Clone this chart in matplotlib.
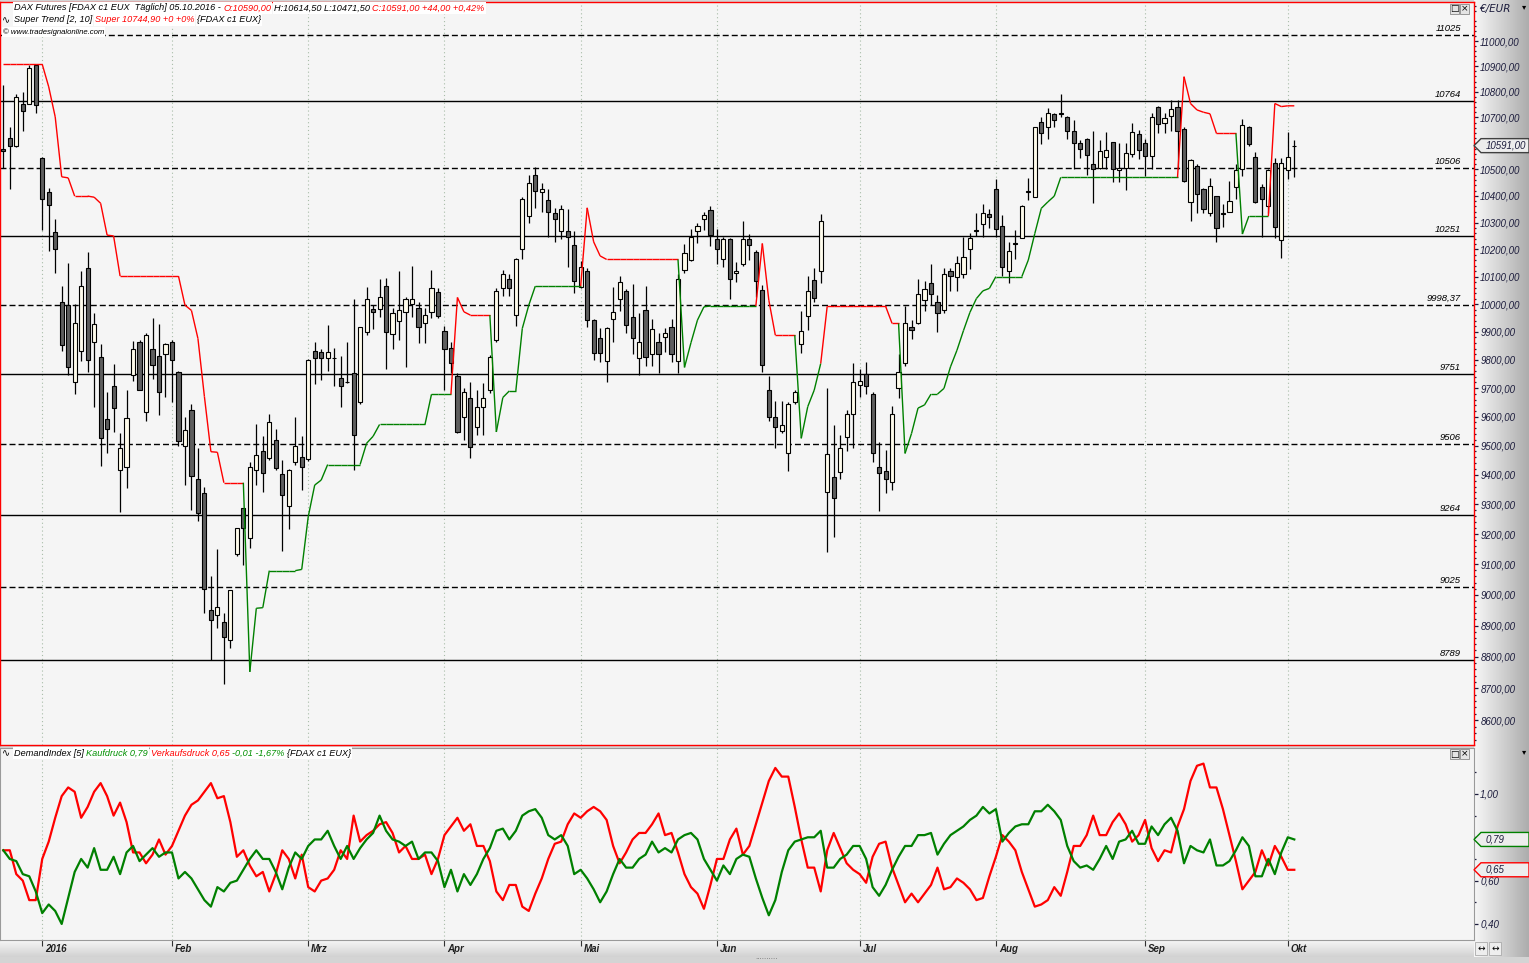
import numpy as np
import matplotlib
matplotlib.use("Agg")
import matplotlib.pyplot as plt
from matplotlib.collections import LineCollection
from matplotlib.patches import Rectangle, Polygon
from matplotlib.lines import Line2D
from matplotlib.colors import LinearSegmentedColormap
from matplotlib.transforms import IdentityTransform, blended_transform_factory
from matplotlib.ticker import FixedLocator, NullFormatter, FuncFormatter

W, H = 1529, 963
FONT = ["Liberation Sans", "DejaVu Sans"]

# ---------------- data ----------------
opens = [10578, 10619, 10591, 10752, 10754, 10905, 10542, 10413, 10263, 10009,
         9995, 9720, 9833, 10130, 9862, 9810, 9591, 9706, 9415, 9425,
         9746, 9862, 9615, 9840, 9813, 9819, 9865, 9757, 9498, 9625,
         9384, 9337, 8950, 8933, 8911, 8855, 9133, 9286, 9186, 9416,
         9480, 9459, 9518, 9401, 9293, 9442, 9460, 9454, 9833, 9829,
         9805, 9808, 9737, 9723, 9752, 9652, 9901, 9982, 9983, 10064,
         9891, 9937, 9972, 10002, 9984, 9930, 9972, 10042, 9902, 9842,
         9743, 9600, 9664, 9565, 9635, 9693, 9869, 10060, 10091, 9959,
         10201, 10326, 10480, 10413, 10383, 10337, 10268, 10268, 10216, 10062,
         10119, 9941, 9876, 9797, 9945, 10020, 10046, 9952, 9805, 9980,
         9819, 9864, 9882, 9916, 9797, 10126, 10161, 10267, 10312, 10345,
         10238, 10164, 10238, 10112, 10145, 10238, 10190, 10051, 9695, 9600,
         9551, 9475, 9650, 9855, 9957, 10087, 10119, 9340, 9391, 9408,
         9528, 9608, 9711, 9748, 9681, 9427, 9414, 9374, 9702, 9787,
         9918, 9930, 10014, 10075, 10008, 9980, 10120, 10097, 10108, 10201,
         10269, 10295, 10330, 10425, 10288, 10121, 10223, 10241, 10414, 10394,
         10683, 10664, 10713, 10717, 10700, 10648, 10603, 10618, 10520, 10507,
         10546, 10606, 10497, 10507, 10559, 10634, 10603, 10551, 10739, 10680,
         10706, 10739, 10654, 10377, 10515, 10425, 10334, 10398, 10334, 10340,
         10432, 10500, 10664, 10546, 10434, 10360, 10523, 10235, 10497, 10590]

highs = [10827, 10661, 10790, 10798, 10905, 10909, 10546, 10430, 10312, 10065,
         10149, 10002, 10120, 10191, 9966, 9858, 9686, 9785, 9543, 9693,
         9866, 9872, 9894, 9949, 9928, 9860, 9870, 9760, 9600, 9644,
         9490, 9357, 9061, 9150, 8940, 9015, 9220, 9286, 9442, 9574,
         9533, 9609, 9557, 9450, 9420, 9600, 9534, 9804, 9863, 9839,
         9923, 9841, 9813, 9865, 10020, 9919, 10062, 9998, 10093, 10095,
         9984, 10120, 10026, 10139, 10008, 9985, 10124, 10059, 9921, 9862,
         9752, 9699, 9722, 9693, 9719, 9817, 10057, 10124, 10108, 10170,
         10397, 10480, 10511, 10447, 10424, 10355, 10365, 10349, 10268, 10157,
         10130, 9945, 9914, 9916, 10062, 10102, 10055, 10073, 9966, 10065,
         9945, 9894, 9912, 9945, 10108, 10220, 10275, 10297, 10338, 10361,
         10275, 10247, 10242, 10155, 10305, 10257, 10198, 10069, 9743, 9654,
         9654, 9652, 9693, 9975, 10102, 10130, 10331, 9699, 9571, 9536,
         9623, 9787, 9769, 9791, 9685, 9511, 9486, 9637, 9822, 9993,
         9942, 10090, 10084, 10146, 10033, 10130, 10130, 10177, 10247, 10262,
         10334, 10371, 10352, 10462, 10328, 10226, 10272, 10365, 10469, 10664,
         10702, 10735, 10718, 10793, 10706, 10690, 10612, 10622, 10647, 10612,
         10642, 10606, 10602, 10603, 10680, 10651, 10618, 10716, 10745, 10718,
         10767, 10767, 10664, 10539, 10520, 10431, 10468, 10399, 10371, 10455,
         10522, 10693, 10667, 10568, 10443, 10503, 10542, 10542, 10645, 10614.5]

lows = [10505, 10425, 10587, 10648, 10752, 10716, 10272, 10195, 10114, 9832,
        9746, 9681, 9797, 9757, 9635, 9430, 9475, 9548, 9275, 9356,
        9726, 9693, 9586, 9732, 9607, 9670, 9651, 9499, 9365, 9281,
        9245, 8940, 8789, 8891, 8715, 8828, 9127, 9098, 9153, 9365,
        9340, 9450, 9415, 9145, 9218, 9433, 9348, 9448, 9714, 9729,
        9761, 9708, 9635, 9718, 9416, 9646, 9889, 9910, 9954, 9769,
        9840, 9870, 9775, 9954, 9860, 9860, 9948, 9948, 9695, 9752,
        9543, 9519, 9458, 9536, 9536, 9684, 9864, 10030, 10030, 9920,
        10165, 10297, 10355, 10340, 10245, 10229, 10238, 10136, 10039, 10057,
        9916, 9801, 9791, 9720, 9864, 9975, 9894, 9822, 9746, 9779,
        9779, 9752, 9826, 9791, 9752, 10114, 10158, 10225, 10272, 10213,
        10145, 10136, 10020, 10079, 10140, 10161, 10026, 9757, 9585, 9490,
        9543, 9414, 9644, 9824, 9906, 10008, 10077, 9141, 9191, 9385,
        9482, 9490, 9670, 9678, 9442, 9279, 9339, 9348, 9667, 9779,
        9874, 9928, 9975, 9996, 9900, 9968, 10048, 10048, 10095, 10127,
        10250, 10247, 10278, 10247, 10102, 10077, 10165, 10241, 10384, 10394,
        10599, 10618, 10664, 10702, 10618, 10503, 10542, 10478, 10374, 10500,
        10500, 10453, 10453, 10422, 10546, 10539, 10474, 10500, 10638, 10641,
        10647, 10501, 10453, 10306, 10336, 10336, 10324, 10229, 10284, 10340,
        10390, 10474, 10589, 10372, 10247, 10334, 10241, 10167, 10465, 10471.5]

closes = [10572, 10591, 10781, 10724, 10893, 10750, 10390, 10364, 10201, 9853,
          9773, 9930, 10064, 9801, 9927, 9525, 9556, 9631, 9491, 9597,
          9840, 9694, 9888, 9780, 9688, 9858, 9801, 9515, 9553, 9396,
          9270, 9020, 8917, 8959, 8864, 9015, 9220, 9222, 9425, 9466,
          9405, 9582, 9424, 9330, 9415, 9500, 9427, 9799, 9805, 9808,
          9826, 9805, 9706, 9721, 9535, 9919, 10020, 9972, 10025, 9900,
          9966, 9977, 10017, 10017, 9919, 9959, 10057, 9957, 9840, 9787,
          9548, 9685, 9495, 9633, 9667, 9809, 10047, 10108, 10059, 10165,
          10387, 10450, 10418, 10424, 10340, 10312, 10349, 10247, 10084, 10136,
          9941, 9824, 9824, 9912, 9970, 10079, 9923, 9876, 9865, 9811,
          9909, 9819, 9894, 9822, 10090, 10186, 10247, 10286, 10327, 10252,
          10201, 10239, 10093, 10120, 10238, 10216, 10083, 9781, 9600, 9565,
          9570, 9646, 9685, 9903, 10047, 10022, 10304, 9470, 9320, 9493,
          9608, 9722, 9725, 9707, 9473, 9405, 9384, 9611, 9757, 9932,
          9906, 10035, 10053, 10035, 9966, 10108, 10103, 10150, 10171, 10241,
          10272, 10337, 10319, 10277, 10134, 10195, 10220, 10363, 10418, 10661,
          10638, 10716, 10690, 10713, 10648, 10603, 10580, 10555, 10500, 10571,
          10575, 10500, 10507, 10561, 10645, 10576, 10552, 10703, 10674, 10697,
          10731, 10647, 10456, 10536, 10406, 10352, 10436, 10278, 10331, 10381,
          10497, 10670, 10599, 10375, 10388, 10497, 10282, 10523, 10547, 10591]

supertrend = ([10908] * 7 + [10819, 10702, 10472, 10468, 10399, 10399, 10399, 10395, 10372,
              10253, 10250] + [10102] * 10 + [9996, 9977, 9876, 9670, 9479, 9477] + [9373] * 4
              + [8752, 8956, 8958] + [9079] * 5 + [9083, 9258, 9365, 9382] + [9435] * 6
              + [9508, 9532] + [9573] * 8 + [9678] * 4 + [10024, 9972] + [9960] * 4
              + [9547, 9667, 9690, 9690, 9912, 9996] + [10065] * 8 + [10355, 10228, 10176]
              + [10163] * 12 + [9773, 9861, 9942, 9990] + [9993] * 8 + [10222, 10014]
              + [9888] * 4 + [9525, 9635, 9693, 9787] + [9992] * 10 + [9930, 9930]
              + [9473, 9542, 9630, 9641, 9679, 9679, 9699, 9775, 9834, 9904, 9970, 10020,
                 10048, 10057] + [10100] * 5 + [10161, 10259, 10353, 10377, 10399]
              + [10470] * 19 + [10859, 10754, 10729, 10720, 10714] + [10638] * 4
              + [10257] + [10324] * 4 + [10754, 10742, 10745, 10744.9])

kaufdruck = [.74, .70, .69, .63, .62, .55, .45, .49, .46, .40,
             .52, .64, .70, .66, .75, .65, .65, .71, .63, .73,
             .76, .69, .72, .75, .71, .73, .73, .61, .64, .61,
             .56, .51, .48, .57, .55, .59, .60, .65, .70, .74,
             .70, .70, .64, .56, .66, .73, .70, .76, .79, .79,
             .83, .76, .70, .76, .70, .75, .79, .82, .90, .83,
             .79, .78, .76, .78, .70, .73, .73, .69, .57, .65,
             .55, .63, .58, .63, .70, .75, .83, .84, .79, .83,
             .90, .92, .93, .89, .81, .79, .81, .76, .63, .65,
             .61, .56, .50, .55, .63, .70, .66, .66, .70, .72,
             .78, .73, .75, .73, .79, .81, .82, .79, .70, .65,
             .60, .67, .63, .70, .72, .71, .61, .52, .44, .51,
             .64, .74, .78, .79, .80, .80, .83, .66, .66, .70,
             .72, .76, .76, .70, .57, .53, .58, .65, .71, .76,
             .76, .81, .81, .82, .72, .77, .81, .83, .85, .88,
             .90, .94, .91, .93, .78, .82, .85, .86, .86, .92,
             .92, .95, .92, .88, .76, .69, .66, .67, .65, .70,
             .76, .70, .78, .79, .83, .77, .77, .85, .81, .86,
             .89, .83, .68, .76, .74, .73, .79, .67, .67, .69,
             .74, .80, .76, .62, .62, .70, .63, .73, .80, .79]

verkaufsdruck = [.74, .74, .63, .60, .51, .51, .70, .78, .89, .99,
                 1.03, 1.01, .89, .94, 1.01, 1.05, .99, .90, .96, .87,
                 .73, .73, .68, .72, .79, .72, .76, .83, .90, .95,
                 .97, 1.01, 1.05, .98, .99, .87, .71, .74, .67, .62,
                 .64, .55, .63, .74, .70, .61, .72, .57, .55, .60,
                 .61, .65, .74, .70, .90, .78, .81, .83, .86, .87,
                 .82, .73, .76, .70, .70, .72, .63, .70, .81, .85,
                 .89, .83, .86, .76, .76, .69, .55, .51, .58, .58,
                 .48, .46, .54, .61, .70, .77, .78, .86, .91, .89,
                 .92, .94, .92, .88, .76, .68, .73, .79, .82, .82,
                 .86, .91, .81, .82, .73, .63, .57, .54, .47, .58,
                 .70, .70, .79, .84, .72, .76, .86, .96, 1.06, 1.12,
                 1.08, 1.08, .94, .79, .66, .66, .55, .74, .82, .75,
                 .68, .65, .63, .59, .71, .77, .78, .66, .58, .50,
                 .54, .50, .54, .58, .66, .56, .57, .61, .59, .56,
                 .51, .52, .62, .71, .81, .78, .74, .64, .56, .48,
                 .49, .51, .57, .53, .64, .76, .76, .81, .90, .81,
                 .81, .87, .91, .86, .78, .81, .88, .75, .69, .74,
                 .73, .85, .93, 1.06, 1.13, 1.14, 1.03, 1.03, .93, .81,
                 .69, .56, .60, .64, .74, .67, .76, .71, .65, .65]

month_idx = [6, 26, 47, 68, 89, 110, 132, 153, 176, 198]
month_labels = ["2016", "Feb", "Mrz", "Apr", "Mai", "Jun", "Jul", "Aug", "Sep", "Okt"]

level_values = [11025, 10764, 10506, 10251, 9998.37, 9751, 9506, 9264, 9025, 8789]
level_labels = ["11025", "10764", "10506", "10251", "9998,37", "9751", "9506", "9264", "9025", "8789"]

price_ticks = list(range(8600, 11001, 100))
price_minor = [v for v in range(8540, 11160, 20) if v % 100]
demand_ticks = [0.4, 0.6, 0.8, 1.0]
demand_minor = [0.5, 0.7, 0.9, 1.1]

# ---------------- figure ----------------
fig = plt.figure(figsize=(W / 100, H / 100), dpi=100, facecolor="#D4D4D4")


def box(x0, y0, x1, y1):
    # pixel box, top-left origin -> figure fraction
    return [x0 / W, 1 - y1 / H, (x1 - x0) / W, (y1 - y0) / H]


def comma(v, nd=2):
    return f"{v:.{nd}f}".replace(".", ",")


XLIM = (-0.51, 226.7)
RED = "#FF0000"
GREEN = "#008000"
TXT = "#1C1C3C"

# right-hand scale strip (grey gradient)
strip_cmap = LinearSegmentedColormap.from_list("strip", ["#F7F7F7", "#ADADAD"])
ax_rs = fig.add_axes(box(1474, 0, 1529, 957), zorder=0)
ax_rs.imshow(np.linspace(0, 1, 64)[None, :], aspect="auto", cmap=strip_cmap, extent=[0, 1, 0, 1])
ax_rs.axis("off")

# bottom date strip
date_cmap = LinearSegmentedColormap.from_list("date", ["#F6F6F6", "#D2D2D2"])
ax_xs = fig.add_axes(box(0, 940, 1474, 957), zorder=1)
ax_xs.imshow(np.linspace(0, 1, 32)[:, None], aspect="auto", cmap=date_cmap,
             extent=[XLIM[0], XLIM[1], 0, 1])
ax_xs.set_xlim(XLIM)
ax_xs.set_ylim(0, 1)
ax_xs.axis("off")
ax_xs.vlines(month_idx, 0.62, 1.0, color="#303030", lw=0.8)
for m, lab in zip(month_idx, month_labels):
    ax_xs.text(m + 0.45, 0.47, lab, fontsize=7, style="italic", weight="bold",
               family=FONT, color="#202020", ha="left", va="center")

# ---------------- price panel ----------------
ax = fig.add_axes(box(0, 2, 1474, 745), zorder=2)
ax.set_facecolor("#F5F5F5")
ax.set_yscale("log")
ax.set_xlim(XLIM)
ax.set_ylim(8523, 11157)
ax.set_xticks([])
ax.yaxis.tick_right()
ax.yaxis.set_major_locator(FixedLocator(price_ticks))
ax.yaxis.set_major_formatter(FuncFormatter(lambda v, p: comma(v)))
ax.yaxis.set_minor_locator(FixedLocator(price_minor))
ax.yaxis.set_minor_formatter(NullFormatter())
ax.tick_params(axis="y", which="major", length=3, width=0.9, pad=1.5, colors=TXT,
               labelsize=7)
ax.tick_params(axis="y", which="minor", length=1.5, width=0.9, color=TXT)
for lab in ax.get_yticklabels():
    lab.set_style("italic")
    lab.set_family(FONT)
for s in ax.spines.values():
    s.set_color(RED)
    s.set_linewidth(1.0)

for m in month_idx:
    ax.axvline(m, color="#A8BCA8", lw=0.8, ls=(0, (1, 2.5)), zorder=1)

# horizontal levels, alternating dashed / solid
lab_tr = blended_transform_factory(ax.transAxes, ax.transData)
for k, (v, lab) in enumerate(zip(level_values, level_labels)):
    ax.axhline(v, color="black", lw=1.0, ls=(0, (4.3, 2.2)) if k % 2 == 0 else "-", zorder=2)
    ax.annotate(lab, (1461 / 1474, v), xycoords=lab_tr, xytext=(0, 1.5),
                textcoords="offset points", ha="right", va="bottom", fontsize=6.8,
                style="italic", family=FONT, color="black")

# candles
x = np.arange(len(closes))
o, hi, lo, c = map(np.asarray, (opens, highs, lows, closes))
up = c >= o
ax.vlines(x, lo, hi, color="black", lw=0.9, zorder=3)
ax.bar(x[up], (c - o)[up], bottom=o[up], width=0.64, color="#FFFCEC",
       edgecolor="black", lw=0.8, zorder=4)
ax.bar(x[~up], (o - c)[~up], bottom=c[~up], width=0.64, color="#5E5E5E",
       edgecolor="black", lw=0.8, zorder=4)

# super trend: red while above the close, green while below
st = np.asarray(supertrend)
segs = [[(i - 1, st[i - 1]), (i, st[i])] for i in range(1, len(st))]
seg_cols = [RED if st[i] > c[i] else GREEN for i in range(1, len(st))]
ax.add_collection(LineCollection(segs, colors=seg_cols, lw=1.0, zorder=5))

# ---------------- demand index panel ----------------
ax2 = fig.add_axes(box(0, 748, 1474, 940), zorder=2)
ax2.set_facecolor("#F5F5F5")
ax2.set_xlim(XLIM)
ax2.set_ylim(0.326, 1.212)
ax2.set_xticks([])
ax2.yaxis.tick_right()
ax2.yaxis.set_major_locator(FixedLocator(demand_ticks))
ax2.yaxis.set_major_formatter(FuncFormatter(lambda v, p: comma(v)))
ax2.yaxis.set_minor_locator(FixedLocator(demand_minor))
ax2.yaxis.set_minor_formatter(NullFormatter())
ax2.tick_params(axis="y", which="major", length=3, width=0.9, pad=1.5, colors=TXT,
                labelsize=7)
ax2.tick_params(axis="y", which="minor", length=1.5, width=0.9, color=TXT)
for lab in ax2.get_yticklabels():
    lab.set_style("italic")
    lab.set_family(FONT)
for s in ax2.spines.values():
    s.set_color("#9A9A9A")
    s.set_linewidth(0.8)
for m in month_idx:
    ax2.axvline(m, color="#A8BCA8", lw=0.8, ls=(0, (1, 2.5)), zorder=1)

ax2.plot(x, verkaufsdruck, color=RED, lw=1.6, zorder=3)
ax2.plot(x, kaufdruck, color=GREEN, lw=1.6, zorder=4)

# ---------------- value tags on the right scale ----------------


def value_tag(axis, value, text, edge):
    yd = axis.transData.transform((0, value))[1]
    pts = [(1474, yd), (1481, yd + 7), (1529, yd + 7), (1529, yd - 7), (1481, yd - 7)]
    poly = Polygon(pts, closed=True, transform=IdentityTransform(), facecolor="#EDEDED",
                   edgecolor=edge, lw=1.0, zorder=20)
    fig.add_artist(poly)
    fig.text(1486 / W, yd / H, text, fontsize=7, style="italic", family=FONT, color=TXT,
             ha="left", va="center", zorder=21)


value_tag(ax, closes[-1], comma(closes[-1]), "#404040")
value_tag(ax2, kaufdruck[-1], comma(kaufdruck[-1]), GREEN)
value_tag(ax2, verkaufsdruck[-1], comma(verkaufsdruck[-1]), RED)

# ---------------- header texts ----------------
renderer = fig.canvas.get_renderer()


def header(x_px, y_px, pieces, size=6.6):
    gap = size * 100 / 72 * 0.28
    for s, col in pieces:
        t = fig.text(x_px / W, 1 - y_px / H, s, color=col, fontsize=size, style="italic",
                     family=FONT, ha="left", va="center", zorder=30,
                     bbox=dict(facecolor="white", edgecolor="none", pad=0.8))
        x_px += t.get_window_extent(renderer=renderer).width + gap


chg = closes[-1] - closes[-2]
header(14, 8, [("DAX Futures [FDAX c1 EUX  Täglich] 05.10.2016 -", "black"),
               (f"O:{comma(opens[-1])}", RED),
               (f"H:{comma(highs[-1])} L:{comma(lows[-1])}", "black"),
               (f"C:{comma(closes[-1])} {chg:+.2f} {chg / closes[-2] * 100:+.2f}%".replace(".", ","), RED)])
header(14, 20, [("Super Trend [2, 10]", "black"),
                (f"Super {comma(supertrend[-1])} +0 +0%", RED),
                ("{FDAX c1 EUX}", "black")])
header(3, 32, [("© www.tradesignalonline.com", "black")], size=5.6)
header(14, 753, [("DemandIndex [5]", "black"),
                 (f"Kaufdruck {comma(kaufdruck[-1])}", "#009000"),
                 (f"Verkaufsdruck {comma(verkaufsdruck[-1])}", RED),
                 ("-0,01 -1,67%", "#009000"),
                 ("{FDAX c1 EUX}", "black")])

# small icons in front of the header lines
fig.add_artist(Line2D([7 / W, 7 / W], [1 - 3 / H, 1 - 13 / H], color="black", lw=0.8))
fig.add_artist(Rectangle((5 / W, 1 - 11 / H), 4 / W, 5 / H, facecolor="white",
                         edgecolor="black", lw=0.8))
for yy in (20, 753):
    fig.text(2 / W, 1 - yy / H, "∿", fontsize=7, family=["DejaVu Sans"], ha="left",
             va="center", color="black")

# scale header and window buttons
fig.text(1479 / W, 1 - 9 / H, "€/EUR", fontsize=7.5, style="italic",
         family=["DejaVu Sans"], color=TXT, ha="left", va="center", zorder=40)
for yy in (7, 752):
    fig.text(1524 / W, 1 - yy / H, "▾", fontsize=6, family=["DejaVu Sans"], ha="center",
             va="center", color="black")
for yy in (9, 754):
    for k, sym in enumerate(("□", "×")):
        x0 = 1450 + k * 10
        fig.add_artist(Rectangle((x0 / W, 1 - (yy + 5) / H), 9 / W, 10 / H,
                                 facecolor="#E4E4E4", edgecolor="#888888", lw=0.6, zorder=31))
        fig.text((x0 + 4.5) / W, 1 - yy / H, sym, fontsize=6.5, family=["DejaVu Sans"],
                 ha="center", va="center", color="black", zorder=32)
for k in range(2):
    x0 = 1475 + k * 14
    fig.add_artist(Rectangle((x0 / W, 1 - 955 / H), 12 / W, 13 / H,
                             facecolor="#EEEEEE", edgecolor="#AAAAAA", lw=0.6, zorder=31))
    fig.text((x0 + 6) / W, 1 - 948 / H, "↔", fontsize=6.5, family=["DejaVu Sans"],
             ha="center", va="center", color="black", zorder=32)
fig.text(767 / W, 1 - 959 / H, "··········", fontsize=5, color="#707070", ha="center",
         va="center", family=["DejaVu Sans"])

fig.savefig("out.png", dpi=100, facecolor=fig.get_facecolor())
